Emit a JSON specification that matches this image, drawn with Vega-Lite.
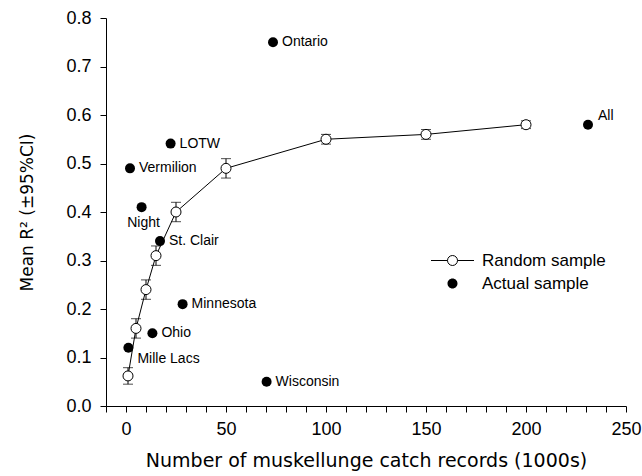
{
  "$schema": "https://vega.github.io/schema/vega-lite/v6.json",
  "width": 520,
  "height": 388,
  "autosize": "none",
  "padding": {"left": 106, "top": 18, "right": 16, "bottom": 70},
  "background": "white",
  "config": {
    "view": {"stroke": null},
    "axis": {
      "domainColor": "black",
      "tickColor": "black",
      "labelColor": "black",
      "titleColor": "black",
      "grid": false,
      "labelFont": "Liberation Sans",
      "labelFontSize": 18,
      "titleFont": "DejaVu Sans",
      "titleFontSize": 18,
      "titleFontWeight": "normal",
      "tickSize": 6,
      "domainWidth": 1,
      "tickWidth": 1
    }
  },
  "data": {
    "values": [
      {"series": "Random sample", "x": 1, "y": 0.062, "lo": 0.045, "hi": 0.079},
      {"series": "Random sample", "x": 5, "y": 0.16, "lo": 0.14, "hi": 0.18},
      {"series": "Random sample", "x": 10, "y": 0.24, "lo": 0.22, "hi": 0.26},
      {"series": "Random sample", "x": 15, "y": 0.31, "lo": 0.29, "hi": 0.33},
      {"series": "Random sample", "x": 25, "y": 0.40, "lo": 0.38, "hi": 0.42},
      {"series": "Random sample", "x": 50, "y": 0.49, "lo": 0.47, "hi": 0.51},
      {"series": "Random sample", "x": 100, "y": 0.55, "lo": 0.54, "hi": 0.56},
      {"series": "Random sample", "x": 150, "y": 0.56, "lo": 0.55, "hi": 0.57},
      {"series": "Random sample", "x": 200, "y": 0.58, "lo": 0.572, "hi": 0.588},
      {"series": "Actual sample", "name": "Ontario", "x": 73.5, "y": 0.75},
      {"series": "Actual sample", "name": "LOTW", "x": 22.3, "y": 0.541},
      {"series": "Actual sample", "name": "Vermilion", "x": 2, "y": 0.49},
      {"series": "Actual sample", "name": "Night", "x": 7.8, "y": 0.41},
      {"series": "Actual sample", "name": "St. Clair", "x": 17, "y": 0.34},
      {"series": "Actual sample", "name": "Minnesota", "x": 28.3, "y": 0.21},
      {"series": "Actual sample", "name": "Ohio", "x": 13.2, "y": 0.15},
      {"series": "Actual sample", "name": "Mille Lacs", "x": 1.2, "y": 0.12},
      {"series": "Actual sample", "name": "Wisconsin", "x": 70.3, "y": 0.05},
      {"series": "Actual sample", "name": "All", "x": 231, "y": 0.58}
    ]
  },
  "encoding": {
    "x": {
      "field": "x",
      "type": "quantitative",
      "scale": {"domain": [-10, 250], "nice": false, "zero": false},
      "axis": {
        "title": "Number of muskellunge catch records (1000s)",
        "titleFontSize": 19,
        "values": [-10, 0, 10, 20, 30, 40, 50, 60, 70, 80, 90, 100, 110, 120, 130, 140, 150, 160, 170, 180, 190, 200, 210, 220, 230, 240, 250],
        "labelExpr": "datum.value % 50 === 0 ? datum.label : ''",
        "labelPadding": 8,
        "labelFlush": false,
        "labelOverlap": false,
        "titlePadding": 13
      }
    },
    "y": {
      "field": "y",
      "type": "quantitative",
      "scale": {"domain": [0, 0.8], "nice": false},
      "axis": {
        "title": "Mean R² (±95%CI)",
        "titleFontSize": 17,
        "values": [0, 0.1, 0.2, 0.3, 0.4, 0.5, 0.6, 0.7, 0.8],
        "format": ".1f",
        "labelPadding": 9,
        "labelFlush": false,
        "titlePadding": 29
      }
    }
  },
  "layer": [
    {
      "transform": [{"filter": "datum.series === 'Random sample'"}],
      "mark": {"type": "rule", "color": "black", "strokeWidth": 1},
      "encoding": {
        "y": {"field": "lo", "type": "quantitative"},
        "y2": {"field": "hi"}
      }
    },
    {
      "transform": [{"filter": "datum.series === 'Random sample'"}],
      "mark": {"type": "tick", "orient": "horizontal", "size": 10, "thickness": 1, "color": "black"},
      "encoding": {"y": {"field": "lo", "type": "quantitative"}}
    },
    {
      "transform": [{"filter": "datum.series === 'Random sample'"}],
      "mark": {"type": "tick", "orient": "horizontal", "size": 10, "thickness": 1, "color": "black"},
      "encoding": {"y": {"field": "hi", "type": "quantitative"}}
    },
    {
      "transform": [{"filter": "datum.series === 'Random sample'"}],
      "mark": {"type": "line", "color": "black", "strokeWidth": 1},
      "encoding": {}
    },
    {
      "mark": {"type": "point", "filled": true, "size": 100, "strokeWidth": 1, "opacity": 1, "shape": "circle"},
      "encoding": {
        "fill": {
          "field": "series",
          "type": "nominal",
          "scale": {"domain": ["Random sample", "Actual sample"], "range": ["white", "black"]},
          "legend": {
            "title": null,
            "orient": "none",
            "legendX": 338,
            "legendY": 234,
            "labelFont": "Liberation Sans",
            "labelFontSize": 17,
            "labelColor": "black",
            "labelOffset": 21,
            "rowPadding": 5,
            "symbolSize": 100,
            "symbolStrokeWidth": 1,
            "symbolType": "M -4.3 0 L -1 0 M 1 0 L 4.3 0 M -1 0 A 1 1 0 1 1 1 0 A 1 1 0 1 1 -1 0 Z",
            "padding": 0
          }
        },
        "stroke": {
          "field": "series",
          "type": "nominal",
          "scale": {"domain": ["Random sample", "Actual sample"], "range": ["black", "transparent"]},
          "legend": {
            "title": null,
            "orient": "none",
            "legendX": 338,
            "legendY": 234,
            "labelFont": "Liberation Sans",
            "labelFontSize": 17,
            "labelColor": "black",
            "labelOffset": 21,
            "rowPadding": 5,
            "symbolSize": 100,
            "symbolStrokeWidth": 1,
            "symbolType": "M -4.3 0 L -1 0 M 1 0 L 4.3 0 M -1 0 A 1 1 0 1 1 1 0 A 1 1 0 1 1 -1 0 Z",
            "padding": 0
          }
        }
      }
    },
    {
      "transform": [{"filter": "datum.series === 'Actual sample' && indexof(['Night', 'Mille Lacs', 'All'], datum.name) < 0"}],
      "mark": {"type": "text", "align": "left", "baseline": "middle", "dx": 9, "font": "Liberation Sans", "fontSize": 14, "color": "black"},
      "encoding": {"text": {"field": "name"}}
    },
    {
      "transform": [{"filter": "datum.name === 'Night'"}],
      "mark": {"type": "text", "align": "center", "baseline": "middle", "dx": 2, "dy": 16, "font": "Liberation Sans", "fontSize": 14, "color": "black"},
      "encoding": {"text": {"field": "name"}}
    },
    {
      "transform": [{"filter": "datum.name === 'Mille Lacs'"}],
      "mark": {"type": "text", "align": "left", "baseline": "middle", "dx": 9, "dy": 11, "font": "Liberation Sans", "fontSize": 14, "color": "black"},
      "encoding": {"text": {"field": "name"}}
    },
    {
      "transform": [{"filter": "datum.name === 'All'"}],
      "mark": {"type": "text", "align": "left", "baseline": "middle", "dx": 10, "dy": -9, "font": "Liberation Sans", "fontSize": 14, "color": "black"},
      "encoding": {"text": {"field": "name"}}
    }
  ]
}
